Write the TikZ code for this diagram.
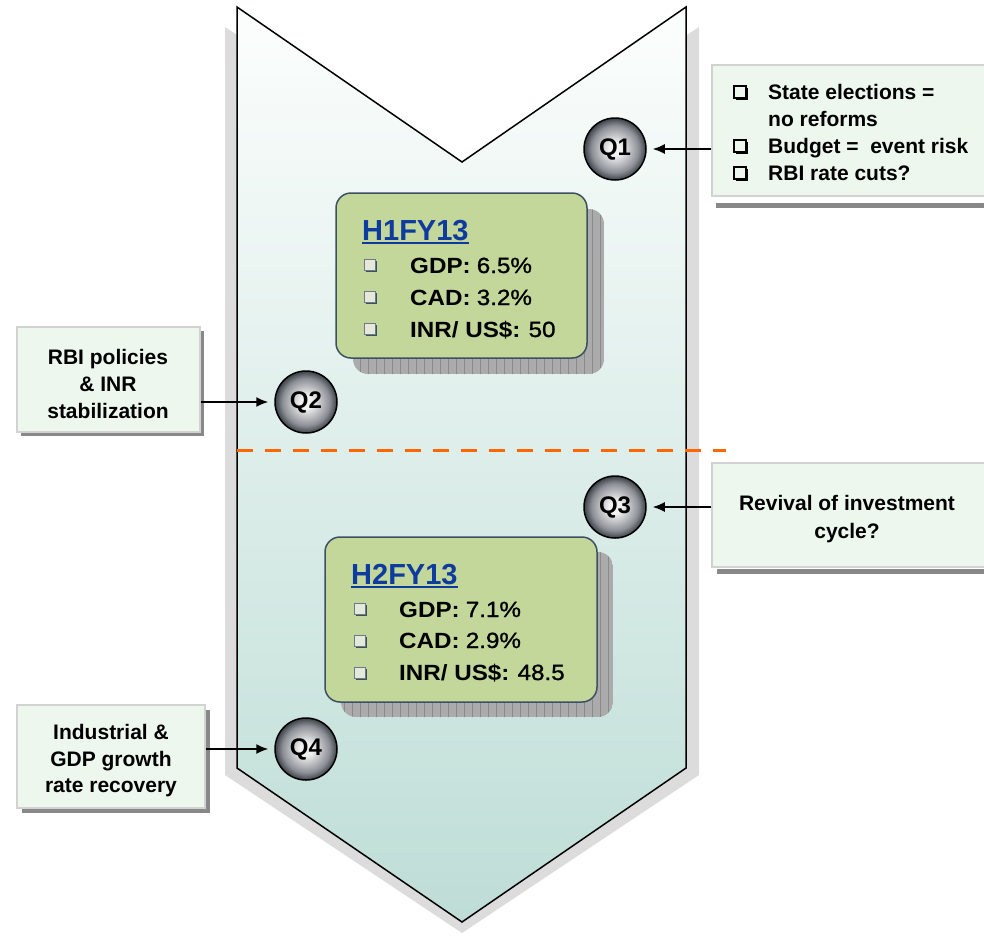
\documentclass[tikz,border=0pt]{standalone}
\usepackage{fontspec}
\setmainfont{Liberation Sans}
\newfontfamily\hfont{Liberation Sans}[FakeStretch=1.1]
\newfontfamily\hvfont{Liberation Sans}[FakeStretch=1.1,FakeBold=1.2]
\usetikzlibrary{arrows.meta,shadows}

\definecolor{chevtop}{HTML}{FCFEFD}
\definecolor{chevbot}{HTML}{BEDDD6}
\definecolor{chevshadow}{HTML}{DCDCDC}
\definecolor{lbox}{HTML}{EEF7EE}
\definecolor{lboxline}{HTML}{D2D2D2}
\definecolor{hboxfill}{HTML}{C4D79B}
\definecolor{hboxline}{HTML}{3B5161}
\definecolor{hblue}{HTML}{0D3B9E}
\definecolor{dashorange}{HTML}{FF6600}
\definecolor{qin}{HTML}{F2F2F2}
\definecolor{qmid}{HTML}{8C9096}
\definecolor{qout}{HTML}{3C4148}
\definecolor{gridbg}{HTML}{ABABAB}
\definecolor{gridln}{HTML}{8A8A8A}
\definecolor{bshadow}{HTML}{888888}
\definecolor{hbulfill}{HTML}{E4E9DA}
\definecolor{hbulline}{HTML}{6B7B88}
\definecolor{hbulshadow}{HTML}{3D4F5C}

\pgfdeclareradialshading{qball}{\pgfpoint{0bp}{0bp}}{color(0bp)=(qin); color(5bp)=(qin); color(19bp)=(qmid); color(25bp)=(qout); color(50bp)=(qout)}

\begin{document}
\begin{tikzpicture}[x=1pt,y=-1pt,
  lightbox/.style={draw=lboxline, fill=lbox, line width=1.2pt, inner sep=0pt},
  hbox/.style={draw=hboxline, fill=hboxfill, line width=1.5pt, rounded corners=15pt, inner sep=0pt},
  qball/.style={circle, draw=black, line width=1.5pt, shading=qball, minimum size=62pt, inner sep=0pt,
    font=\bfseries\fontsize{24}{28}\selectfont},
  arr/.style={-{Latex[length=12pt,width=10pt]}, line width=1.5pt, shorten >=6pt},
  dashline/.style={draw=dashorange, line width=3pt, dash pattern=on 16pt off 12pt},
  txt/.style={inner sep=0pt, font=\bfseries\fontsize{21}{27}\selectfont},
  htitle/.style={inner sep=0pt, anchor=base west, text=hblue, font=\bfseries\fontsize{29}{34}\selectfont},
  hval/.style={inner sep=0pt, anchor=base west, font=\fontsize{22}{26}\selectfont},
  tbul/.style={rectangle, minimum size=12pt, inner sep=0pt, draw=black, line width=1.3pt, fill=lbox,
    general shadow={fill=black, shadow xshift=1.8pt, shadow yshift=-1.8pt}},
  hbul/.style={rectangle, minimum size=11pt, inner sep=0pt, draw=hbulline, line width=1pt, fill=hbulfill,
    general shadow={fill=hbulshadow, shadow xshift=1.8pt, shadow yshift=-1.8pt}}
]
\useasboundingbox (0,0) rectangle (984,935);

% chevron shadow and chevron
\fill[chevshadow] (225,27) -- (462,182) -- (699,27) -- (699,775) -- (462,933) -- (225,775) -- cycle;
\coordinate (cTL) at (237,7);
\coordinate (cN) at (462,162);
\coordinate (cTR) at (686,7);
\coordinate (cBR) at (686,768);
\coordinate (cB) at (462,922);
\coordinate (cBL) at (237,768);
\shadedraw[top color=chevtop, bottom color=chevbot, draw=black, line width=1.5pt, line join=miter]
  (cTL) -- (cN) -- (cTR) -- (cBR) -- (cB) -- (cBL) -- cycle;

% dashed divider
\coordinate (dL) at (237,450);
\coordinate (dR) at (726,450);
\draw[dashline] (dL) -- (dR);

% H box shadows (grid)
\begin{scope}
  \clip[rounded corners=15pt] (353,209) rectangle (604,374);
  \fill[gridbg] (353,209) rectangle (604,374);
  \draw[gridln, line width=0.7pt, step=8] (352,208) grid (605,375);
\end{scope}
\begin{scope}
  \clip[rounded corners=15pt] (341,552) rectangle (613,717);
  \fill[gridbg] (341,552) rectangle (613,717);
  \draw[gridln, line width=0.7pt, step=8] (340,551) grid (614,718);
\end{scope}

% H boxes
\node[hbox, minimum width=251pt, minimum height=165pt] (h1box) at (461.5,275.5) {};
\node[hbox, minimum width=272pt, minimum height=165pt] (h2box) at (461,619.5) {};

\node[htitle] (h1t) at (362,240) {H1FY13};
\draw[hblue, line width=2pt] ([yshift=-2.5pt]h1t.base west) -- ([yshift=-2.5pt]h1t.base east);
\node[hbul] (h1b1) at (370,265) {};
\node[hbul] (h1b2) at (370,297) {};
\node[hbul] (h1b3) at (370,329) {};
\node[hval] (h1v1) at (410,273) {{\hfont\bfseries GDP:} {\hvfont\mdseries 6.5\%}};
\node[hval] (h1v2) at (410,305) {{\hfont\bfseries CAD:} {\hvfont\mdseries 3.2\%}};
\node[hval] (h1v3) at (410,337) {{\hfont\bfseries INR/ US\$:} {\hvfont\mdseries 50}};

\node[htitle] (h2t) at (351,584) {H2FY13};
\draw[hblue, line width=2pt] ([yshift=-2.5pt]h2t.base west) -- ([yshift=-2.5pt]h2t.base east);
\node[hbul] (h2b1) at (360,609) {};
\node[hbul] (h2b2) at (360,641) {};
\node[hbul] (h2b3) at (360,673) {};
\node[hval] (h2v1) at (399,617) {{\hfont\bfseries GDP:} {\hvfont\mdseries 7.1\%}};
\node[hval] (h2v2) at (399,648) {{\hfont\bfseries CAD:} {\hvfont\mdseries 2.9\%}};
\node[hval] (h2v3) at (399,680) {{\hfont\bfseries INR/ US\$:} {\hvfont\mdseries 48.5}};

% light boxes with shadows
\fill[bshadow] (716,203) rectangle (1000,208);
\node[lightbox, minimum width=288pt, minimum height=131pt] (trbox) at (856,130.5) {};
\fill[bshadow] (717,569) rectangle (1000,574);
\node[lightbox, minimum width=288pt, minimum height=104pt] (q3box) at (856,515) {};
\fill[bshadow] (21,331) rectangle (204,436);
\node[lightbox, minimum width=183pt, minimum height=105pt] (rbibox) at (108.5,379.5) {};
\fill[bshadow] (22,710) rectangle (210,813);
\node[lightbox, minimum width=188pt, minimum height=103pt] (indbox) at (111,756.5) {};

% top-right box text
\node[tbul] (tb1) at (740,92) {};
\node[tbul] (tb2) at (740,146) {};
\node[tbul] (tb3) at (740,173) {};
\node[txt, anchor=base west] (tr1) at (768,99) {State elections =};
\node[txt, anchor=base west] (tr2) at (768,126) {no reforms};
\node[txt, anchor=base west] (tr3) at (768,153) {Budget =~ event risk};
\node[txt, anchor=base west] (tr4) at (768,180) {RBI rate cuts?};

% Q3 box text
\node[txt, anchor=base] (q3l1) at (847,510) {Revival of investment};
\node[txt, anchor=base] (q3l2) at (847,538) {cycle?};

% RBI box text
\node[txt, anchor=base] (rl1) at (108,364) {RBI policies};
\node[txt, anchor=base] (rl2) at (108,391) {\& INR};
\node[txt, anchor=base] (rl3) at (108,418) {stabilization};

% Industrial box text
\node[txt, anchor=base] (il1) at (111,739) {Industrial \&};
\node[txt, anchor=base] (il2) at (111,766) {GDP growth};
\node[txt, anchor=base] (il3) at (111,792) {rate recovery};

% Q balls
\node[qball] (q1) at (615,149) {Q1};
\node[qball] (q2) at (306,402) {Q2};
\node[qball] (q3) at (615,507) {Q3};
\node[qball] (q4) at (306,749) {Q4};

% arrows
\draw[arr] (trbox.west |- q1) -- (q1);
\draw[arr] (rbibox.east |- q2) -- (q2);
\draw[arr] (q3box.west |- q3) -- (q3);
\draw[arr] (indbox.east |- q4) -- (q4);
\end{tikzpicture}
\end{document}
